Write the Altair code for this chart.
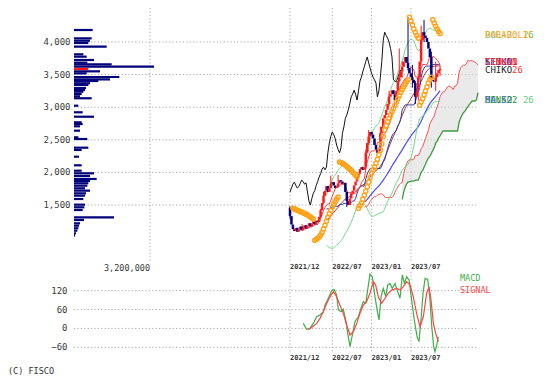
import altair as alt
import pandas as pd

# ---------------- data ----------------
weeks = list(range(104))
close = [1330, 1200, 1130, 1100, 1150, 1090, 1120, 1170, 1110, 1150,
         1190, 1140, 1180, 1220, 1170, 1210, 1250, 1200, 1260, 1240,
         1320, 1420, 1530, 1640, 1720, 1790, 1700, 1760, 1820, 1850,
         1800, 1760, 1780, 1830, 1880, 1860, 1820, 1840, 1700, 1560,
         1500, 1600, 1680, 1720, 1800, 1860, 1930, 1980, 2050, 2080,
         2040, 2080, 2300, 2450, 2550, 2620, 2580, 2520, 2420, 2350,
         2300, 2380, 2600, 2700, 2830, 2880, 2960, 3050, 3160, 3200,
         3260, 3200, 3110, 3250, 3400, 3460, 3550, 3620, 3700, 3770,
         3680, 3600, 3520, 3460, 3420, 3370, 3160, 3250, 3460, 3700,
         4030, 4150, 4100, 4060, 4000, 3900, 3770, 3420, 3400, 3390,
         3460, 3520, 3570, 3590]
first_open = 1460

wick_week = [0, 21, 23, 28, 33, 39, 52, 54, 62, 68, 75, 77, 81, 84, 86, 88, 90, 92, 97, 100, 103]
wick_high = [1480, 1440, 1700, 1950, 1960, 1680, 2350, 2650, 2700, 3250, 3900, 3700, 4380, 3650, 3400, 3500, 4250, 4340, 3850, 3700, 3640]
wick_low = [1290, 1300, 1520, 1780, 1770, 1470, 2050, 2420, 2330, 3020, 3380, 3450, 3560, 3300, 3050, 3100, 3650, 4000, 3300, 3250, 3480]

sar_a = [1450, 1440, 1430, 1420, 1410, 1400, 1390, 1380, 1370, 1360, 1345, 1330, 1315, 1300, 1285]
sar_b = [960, 975, 990, 1010, 1040, 1080, 1130, 1190, 1250, 1310, 1370, 1420, 1470, 1510, 1550, 1590, 1620]
sar_c = [2160, 2150, 2140, 2125, 2110, 2090, 2070, 2050, 2030, 2005, 1980, 1955, 1930]
sar_d = [1450, 1490, 1530, 1590, 1650, 1710, 1780, 1850, 1920, 1990, 2040, 2080, 2140, 2200, 2270,
         2340, 2440, 2550, 2650, 2720, 2780, 2830, 2880, 2930, 2980, 3030, 3080, 3130, 3180, 3230,
         3270, 3310, 3350, 3390, 3420]
sar_f = [4380, 4320, 4260, 4200, 4150, 4100, 4060]
sar_g = [3030, 3080, 3130, 3190, 3250, 3310, 3370, 3420, 3460]
sar_h = [4340, 4290, 4240, 4200, 4160, 4130]
sar_start = [2, 17, 34, 47, 82, 89, 98]

macd_x = [9.1, 11.4, 13.7, 16, 18.3, 20.6, 22.9, 24, 26.3, 28.6, 30.4, 32, 33.2, 35, 36.6,
          38.2, 40, 41.2, 43, 44.6, 46.9, 48.7, 50.3, 52, 53.3, 54.9, 56.5, 58.3, 60.2, 61.1,
          62.5, 64, 65.7, 67, 68.6, 70.2, 72.1, 73.9, 75.5, 77.1, 78.5, 80.1, 81.7, 83.5, 85.3,
          87.2, 88.5, 89.9, 91.3, 92.7, 94.5, 95.9, 97.3, 98.6, 99.5, 100.7, 101.8]
macd_v = [16, -3, 0, 16, 37, 43, 53, 74, 96, 120, 124, 106, 59, 53, 61,
          27, -26, -58, -16, 22, 37, 64, 85, 80, 122, 173, 164, 101, 48, 27,
          101, 127, 101, 138, 143, 127, 143, 117, 96, 170, 143, 164, 154, 90, 27,
          -26, -42, 27, 112, 159, 156, 101, 6, -58, -74, -53, -26]
sig_x = [12.6, 14.9, 18.3, 20.6, 22.9, 25.2, 27.5, 29.8, 32, 34.3, 36.6, 38.9, 41.2, 43.5, 45.8,
         48, 50.3, 52.6, 54.9, 57.2, 58.8, 60.6, 62.9, 65.2, 67.5, 69.8, 73.2, 75.5, 77.8, 80.1,
         82.4, 84.6, 86.9, 89.2, 91.5, 93.8, 95.4, 96.8, 98.4, 100, 101.8]
sig_v = [-3, 3, 16, 32, 53, 80, 101, 117, 101, 74, 48, 11, -21, -10, 16,
         48, 74, 85, 112, 149, 138, 101, 80, 96, 112, 122, 127, 122, 133, 149,
         138, 101, 48, 6, 37, 112, 133, 90, 16, -16, -42]

vp_price = [4184, 4056, 4020, 3985, 3929, 3811, 3775, 3724, 3683, 3658,
            3622, 3550, 3519, 3463, 3428, 3402, 3367, 3341, 3294, 3264,
            3238, 3203, 3167, 3137, 3023, 2922, 2854, 2768, 2742, 2707,
            2640, 2538, 2512, 2379, 2344, 2241, 2109, 2026, 1986, 1945,
            1899, 1868, 1833, 1796, 1756, 1720, 1679, 1643, 1592, 1505,
            1465, 1423, 1311, 1270, 1219, 1183, 1143, 1106, 1066, 1035]
vp_volume = [786, 744, 674, 603, 1375, 393, 533, 842, 561, 1586,
             3368, 1095, 533, 1909, 1516, 1025, 674, 603, 505, 463,
             393, 323, 253, 744, 182, 365, 842, 323, 365, 253,
             253, 182, 561, 603, 323, 211, 323, 323, 842, 674,
             954, 674, 603, 561, 463, 674, 505, 463, 393, 463,
             435, 365, 1684, 421, 253, 211, 182, 140, 84, 42]
vp_current_price = [3586]
vp_current_volume = [603]

price_ticks = [1500, 2000, 2500, 3000, 3500, 4000]
macd_ticks = [-60, 0, 60, 120]
date_weeks = [0, 29, 56, 83]
date_labels = ["2021/12", "2022/07", "2023/01", "2023/07"]
vol_ticks = [3200000]
vol_labels = ["3,200,000"]

# ---------------- styling ----------------
FONT = "DejaVu Sans Mono"
TXT = "#3a3a3a"
GRID = "#a8a8a8"
DASH = [1.2, 2.2]
RED = "#ff1a1a"
NAVY = "#00007a"
ORANGE = "#ffa31a"

PX = alt.Scale(domain=[0, 100], range=[282, 427.7], nice=False, zero=False)
PY = alt.Scale(domain=[1500, 4000], range=[197, 34], nice=False, zero=False)
MY = alt.Scale(domain=[-60, 120], range=[339.3, 282.7], nice=False, zero=False)
VX = alt.Scale(domain=[0, 3200000], range=[66, 142], nice=False, zero=False)


def xw(f):
    return alt.X(f"{f}:Q", scale=PX, axis=None)


def yp(f):
    return alt.Y(f"{f}:Q", scale=PY, axis=None)


def ym(f):
    return alt.Y(f"{f}:Q", scale=MY, axis=None)


price = pd.DataFrame({"i": weeks, "close": close})
wicks = pd.DataFrame({"i": wick_week, "hi": wick_high, "lo": wick_low})
price = price.merge(wicks, on="i", how="left")
SORT = [alt.SortField("i", order="ascending")]

sar_vals = [sar_a, sar_b, sar_c, sar_d, sar_f, sar_g, sar_h]
sar_rows = []
for s0, seg in zip(sar_start, sar_vals):
    for k, v in enumerate(seg):
        sar_rows.append({"i": s0 + k, "sar": v})
sar_df = pd.DataFrame(sar_rows)

macd_df = pd.DataFrame({"x": macd_x, "v": macd_v})
sig_df = pd.DataFrame({"x": sig_x, "v": sig_v})
vp_df = pd.DataFrame({"p": vp_price, "vol": [v * 1000 for v in vp_volume]})
vp_cur = pd.DataFrame({"p": vp_current_price, "vol": [v * 1000 for v in vp_current_volume]})

pt_df = pd.DataFrame({"v": price_ticks})
mt_df = pd.DataFrame({"v": macd_ticks})
dt_df = pd.DataFrame({"i": date_weeks, "lab": date_labels})
vt_df = pd.DataFrame({"v": vol_ticks, "lab": vol_labels})

layers = []

# grid lines
layers.append(alt.Chart(pt_df).mark_rule(color=GRID, strokeDash=DASH).encode(
    y=yp("v"), x=alt.value(66), x2=alt.value(470)))
layers.append(alt.Chart(dt_df).mark_rule(color=GRID, strokeDash=DASH).encode(
    x=xw("i"), y=alt.value(0), y2=alt.value(254)))
layers.append(alt.Chart(vt_df).mark_rule(color=GRID, strokeDash=DASH).encode(
    x=alt.X("v:Q", scale=VX, axis=None), y=alt.value(0), y2=alt.value(254)))
layers.append(alt.Chart(mt_df).mark_rule(color=GRID, strokeDash=DASH).encode(
    y=ym("v"), x=alt.value(66), x2=alt.value(470)))
layers.append(alt.Chart(dt_df).mark_rule(color=GRID, strokeDash=DASH).encode(
    x=xw("i"), y=alt.value(264), y2=alt.value(344)))

# axis-like labels
layers.append(alt.Chart(pt_df).mark_text(align="right", baseline="middle", font=FONT,
                                          fontSize=9, color=TXT).encode(
    x=alt.value(62.5), y=yp("v"), text=alt.Text("v:Q", format=",")))
layers.append(alt.Chart(mt_df).mark_text(align="right", baseline="middle", font=FONT,
                                          fontSize=9, color=TXT).encode(
    x=alt.value(59.5), y=ym("v"), text=alt.Text("v:Q", format="d")))
layers.append(alt.Chart(dt_df).mark_text(align="left", baseline="middle", font=FONT,
                                          fontSize=7, fontWeight="bold", color=TXT).encode(
    x=xw("i"), y=alt.value(259), text="lab:N"))
layers.append(alt.Chart(dt_df).mark_text(align="left", baseline="middle", font=FONT,
                                          fontSize=7, fontWeight="bold", color=TXT).encode(
    x=xw("i"), y=alt.value(350), text="lab:N"))
layers.append(alt.Chart(vt_df).mark_text(align="right", baseline="middle", font=FONT,
                                          fontSize=8.5, color=TXT).encode(
    x=alt.X("v:Q", scale=VX, axis=None), y=alt.value(260), text="lab:N"))

# volume profile
layers.append(alt.Chart(vp_df).mark_rule(color=NAVY, strokeWidth=2.2).encode(
    y=yp("p"), x=alt.X("vol:Q", scale=VX, axis=None), x2=alt.value(66)))
layers.append(alt.Chart(vp_cur).mark_rule(color=RED, strokeWidth=2.2).encode(
    y=yp("p"), x=alt.X("vol:Q", scale=VX, axis=None), x2=alt.value(66)))

base = alt.Chart(price)


def win(ch, n):
    return ch.transform_window(
        **{f"hi{n}": "max(close)", f"lo{n}": "min(close)", f"mean{n}": "mean(close)",
           f"sd{n}": "stdev(close)", f"n{n}": "count(close)"},
        frame=[-(n - 1), 0], sort=SORT)


# ichimoku cloud (senko spans shifted 26 ahead)
cloud = win(win(win(base, 9), 26), 52).transform_filter("datum.n52 >= 52").transform_calculate(
    s1="((datum.hi9 + datum.lo9) / 2 + (datum.hi26 + datum.lo26) / 2) / 2",
    s2="(datum.hi52 + datum.lo52) / 2",
    xs="datum.i + 26")
layers.append(cloud.mark_area(color="#d9d9d9", opacity=0.55).encode(
    x=xw("xs"), y=yp("s1"), y2=alt.Y2("s2:Q")))
layers.append(cloud.mark_line(color="#3f9a3f", strokeWidth=1.3).encode(
    x=xw("xs"), y=yp("s2")))
senko1 = win(win(base, 9), 26).transform_filter("datum.n26 >= 26").transform_calculate(
    s1="((datum.hi9 + datum.lo9) / 2 + (datum.hi26 + datum.lo26) / 2) / 2",
    xs="datum.i + 26")
layers.append(senko1.mark_line(color="#ff5050", strokeWidth=1).encode(
    x=xw("xs"), y=yp("s1")))

# moving averages / bollinger
ma52 = win(base, 52).transform_filter("datum.n52 >= 52")
layers.append(ma52.mark_line(color="#4a4aff", strokeWidth=1.2).encode(
    x=xw("i"), y=yp("mean52")))
bol = win(base, 26).transform_filter("datum.n26 >= 26").transform_calculate(
    up="datum.mean26 + 2 * datum.sd26", dn="datum.mean26 - 2 * datum.sd26",
    kij="(datum.hi26 + datum.lo26) / 2")
layers.append(bol.mark_line(color="#6fd98f", strokeWidth=1).encode(x=xw("i"), y=yp("up")))
layers.append(bol.mark_line(color="#6fd98f", strokeWidth=1).encode(x=xw("i"), y=yp("dn")))
layers.append(bol.mark_line(color="#a03a3a", strokeWidth=1).encode(x=xw("i"), y=yp("mean26")))
layers.append(bol.mark_line(color="#3535a8", strokeWidth=1).encode(x=xw("i"), y=yp("kij")))
tenkan = win(base, 9).transform_filter("datum.n9 >= 9").transform_calculate(
    ten="(datum.hi9 + datum.lo9) / 2")
layers.append(tenkan.mark_line(color="#ff4040", strokeWidth=1).encode(x=xw("i"), y=yp("ten")))

# chiko span (close shifted 26 back)
chiko = base.transform_filter("datum.i >= 26").transform_calculate(cx="datum.i - 26")
layers.append(chiko.mark_line(color="#111111", strokeWidth=1).encode(x=xw("cx"), y=yp("close")))

# candles
cand = base.transform_window(prev="lag(close)", sort=SORT).transform_calculate(
    open=f"isValid(datum.prev) ? datum.prev : {first_open}")
updown = alt.condition("datum.close >= datum.open", alt.value(RED), alt.value(NAVY))
layers.append(cand.transform_filter("isValid(datum.hi)").mark_rule(strokeWidth=1).encode(
    x=xw("i"), y=yp("lo"), y2=alt.Y2("hi:Q"), color=updown))
layers.append(cand.mark_rule(strokeWidth=2.5).encode(
    x=xw("i"), y=yp("open"), y2=alt.Y2("close:Q"), color=updown))

# parabolic SAR
layers.append(alt.Chart(sar_df).mark_point(shape="circle", filled=False, size=18,
                                           strokeWidth=1.4, color=ORANGE, opacity=1).encode(
    x=xw("i"), y=yp("sar")))

# MACD panel
layers.append(alt.Chart(macd_df).mark_line(color="#3fae48", strokeWidth=1.2).encode(
    x=xw("x"), y=ym("v")))
layers.append(alt.Chart(sig_df).mark_line(color="#ff4545", strokeWidth=1.2).encode(
    x=xw("x"), y=ym("v")))

# legend-like labels (overlapping, as in the source chart)
def label(txt, x, y, color, size=9):
    return alt.Chart(pd.DataFrame({"t": [txt]})).mark_text(
        align="left", baseline="middle", font=FONT, fontSize=size, color=color).encode(
        x=alt.value(x), y=alt.value(y), text="t:N")


layers += [
    label("BOL+2: 26", 477, 27, "#5fcf80"),
    label("PARABOLIC", 477, 27, ORANGE),
    label("SENKO1", 477, 54, "#a02020"),
    label("KIJUN", 477, 54, "#3535c8"),
    label("TENKAN", 477, 54, "#ff3030"),
    label("CHIKO", 477, 62, "#222222"),
    label("26", 504, 62, "#ff3030"),
    label("BOL-2: 26", 477, 92, "#5fcf80"),
    label("MA:52", 477, 92, "#4a4aff"),
    label("SENKO2", 477, 92, "#3f9a3f"),
    label("MACD", 452, 270, "#3fae48", 8.5),
    label("SIGNAL", 452, 282, "#ff4545", 8.5),
    label("(C) FISCO", 0, 363, "#333333", 8.5),
]

chart = alt.layer(*layers).resolve_scale(x="independent", y="independent").properties(
    width=536, height=368, padding=0, autosize=alt.AutoSizeParams(type="none")
).configure_view(stroke=None)

chart.save("out.html", embed_options={"renderer": "svg", "actions": False})
